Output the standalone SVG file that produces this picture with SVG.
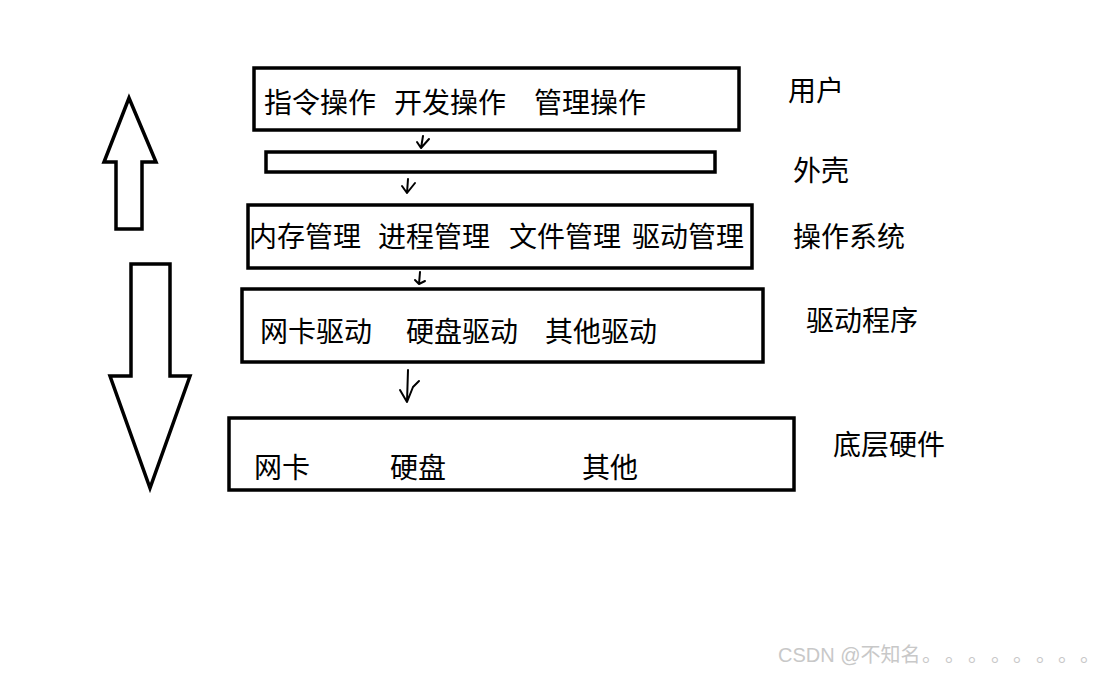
<svg xmlns="http://www.w3.org/2000/svg" width="1106" height="675" viewBox="0 0 1106 675">
<style>
.box{fill:#fff;stroke:#000;stroke-width:3.5}
.big{fill:#fff;stroke:#000;stroke-width:3.5;stroke-linejoin:miter}
.t{font-family:"Noto Sans CJK SC","Noto Sans",sans-serif;font-size:28px;fill:#000}
.lbl{font-family:"Noto Sans CJK SC","Noto Sans",sans-serif;font-size:28px;fill:#000}
.hand{fill:none;stroke:#000;stroke-width:2;stroke-linecap:round;stroke-linejoin:round}
.wm{font-family:"Liberation Sans","Noto Sans CJK SC",sans-serif;font-size:20px;fill:#c8c8c8}
</style>
<rect width="1106" height="675" fill="#fff"/>
<g id="up-arrow"><polygon class="big" points="129,98 156,162 142,162 142,229 116,229 116,162 104,162"/></g>
<g id="down-arrow"><polygon class="big" points="131,264 170,264 170,376 190,376 150,488 110,376 131,376"/></g>
<g id="user-box"><rect class="box" x="254" y="68" width="485" height="62"/>
<text class="t" x="264" y="113">指令操作</text><text class="t" x="394" y="113">开发操作</text><text class="t" x="534" y="113">管理操作</text></g>
<g id="shell-box"><rect class="box" x="266" y="152" width="449" height="20"/></g>
<g id="os-box"><rect class="box" x="248" y="205" width="504" height="63"/>
<text class="t" x="249" y="247">内存管理</text><text class="t" x="378" y="247">进程管理</text><text class="t" x="509" y="247">文件管理</text><text class="t" x="632" y="247">驱动管理</text></g>
<g id="driver-box"><rect class="box" x="242" y="289" width="521" height="73"/>
<text class="t" x="260" y="342">网卡驱动</text><text class="t" x="406" y="342">硬盘驱动</text><text class="t" x="545" y="342">其他驱动</text></g>
<g id="hw-box"><rect class="box" x="229" y="418" width="565" height="72"/>
<text class="t" x="254" y="478">网卡</text><text class="t" x="390" y="478">硬盘</text><text class="t" x="582" y="478">其他</text></g>
<g id="labels">
<text class="lbl" x="788" y="101">用户</text>
<text class="lbl" x="793" y="181">外壳</text>
<text class="lbl" x="793" y="247">操作系统</text>
<text class="lbl" x="806" y="331">驱动程序</text>
<text class="lbl" x="833" y="455">底层硬件</text>
</g>
<g id="connectors">
<path class="hand" d="M423,136 L421,148 M417,142 L421,148 L429,139"/>
<path class="hand" d="M408,179 L407,193 M402,186 L407,193 L415,183"/>
<path class="hand" d="M420,272 L419,284 M415,280 L419,284 L425,281"/>
<path class="hand" d="M408,370 L407,402 M400,390 L407,402 L413,387 L419,381"/>
</g>
<text class="wm" x="778" y="662">CSDN @不知名<tspan x="922 945 968 991 1013 1036 1058 1080">。。。。。。。。</tspan></text>
</svg>
